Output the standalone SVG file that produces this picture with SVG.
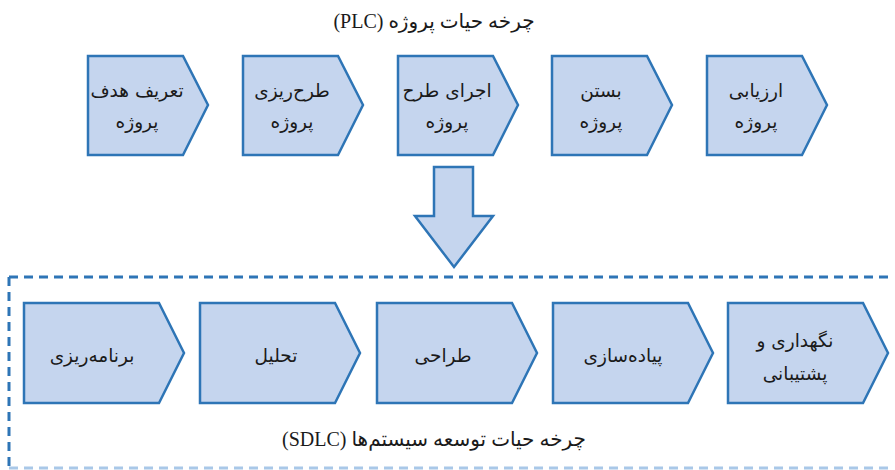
<svg xmlns="http://www.w3.org/2000/svg" width="895" height="470" viewBox="0 0 895 470">
<style>
.box{fill:#C5D5EE;stroke:#2E75B6;stroke-width:2.5;stroke-linejoin:miter}
.lbl{font-family:"DejaVu Sans","Liberation Sans",sans-serif;font-size:18.5px;fill:#1a1a1a;text-anchor:middle}
.ttl{font-family:"Liberation Serif","DejaVu Sans",serif;font-size:20px;fill:#1a1a1a;text-anchor:middle}
.dash{fill:none;stroke:#2E75B6;stroke-width:3;stroke-dasharray:9 6}
</style>
<rect width="895" height="470" fill="#ffffff"/>
<text class="ttl" x="434" y="28" direction="rtl">چرخه حیات پروژه (PLC)</text>
<g id="plc1"><path class="box" d="M88 56 H183 L208 105 L183 155 H88 Z"/><text class="lbl" x="137" y="97" direction="rtl">تعریف هدف</text><text class="lbl" x="137" y="128" direction="rtl">پروژه</text></g>
<g id="plc2"><path class="box" d="M243 56 H338 L363 105 L338 155 H243 Z"/><text class="lbl" x="292" y="97" direction="rtl">طرح‌ریزی</text><text class="lbl" x="292" y="128" direction="rtl">پروژه</text></g>
<g id="plc3"><path class="box" d="M398 56 H493 L518 105 L493 155 H398 Z"/><text class="lbl" x="447" y="97" direction="rtl">اجرای طرح</text><text class="lbl" x="447" y="128" direction="rtl">پروژه</text></g>
<g id="plc4"><path class="box" d="M552 56 H647 L672 105 L647 155 H552 Z"/><text class="lbl" x="601" y="97" direction="rtl">بستن</text><text class="lbl" x="601" y="128" direction="rtl">پروژه</text></g>
<g id="plc5"><path class="box" d="M707 56 H802 L827 105 L802 155 H707 Z"/><text class="lbl" x="756" y="97" direction="rtl">ارزیابی</text><text class="lbl" x="756" y="128" direction="rtl">پروژه</text></g>
<g id="connectors">
<path class="box" d="M434 167 H473 V216 H493 L454 267 L415 216 H434 Z"/>
</g>
<g id="sdlc-frame">
<path class="dash" d="M9 277 H892"/>
<path class="dash" d="M9 277 V470"/>
<path class="dash" d="M9 468 H892" style="stroke:#A9C8E8"/>
</g>
<g id="sdlc1"><path class="box" d="M24 303 H159 L184 353 L159 403 H24 Z"/><text class="lbl" x="92" y="362" direction="rtl">برنامه‌ریزی</text></g>
<g id="sdlc2"><path class="box" d="M200 303 H335 L360 353 L335 403 H200 Z"/><text class="lbl" x="276" y="362" direction="rtl">تحلیل</text></g>
<g id="sdlc3"><path class="box" d="M377 303 H512 L537 353 L512 403 H377 Z"/><text class="lbl" x="443" y="362" direction="rtl">طراحی</text></g>
<g id="sdlc4"><path class="box" d="M553 303 H688 L713 353 L688 403 H553 Z"/><text class="lbl" x="623" y="362" direction="rtl">پیاده‌سازی</text></g>
<g id="sdlc5"><path class="box" d="M728 303 H863 L888 353 L863 403 H728 Z"/><text class="lbl" x="795" y="347" direction="rtl">نگهداری و</text><text class="lbl" x="795" y="380" direction="rtl">پشتیبانی</text></g>
<text class="ttl" x="434" y="446" direction="rtl">چرخه حیات توسعه سیستم‌ها (SDLC)</text>
</svg>
